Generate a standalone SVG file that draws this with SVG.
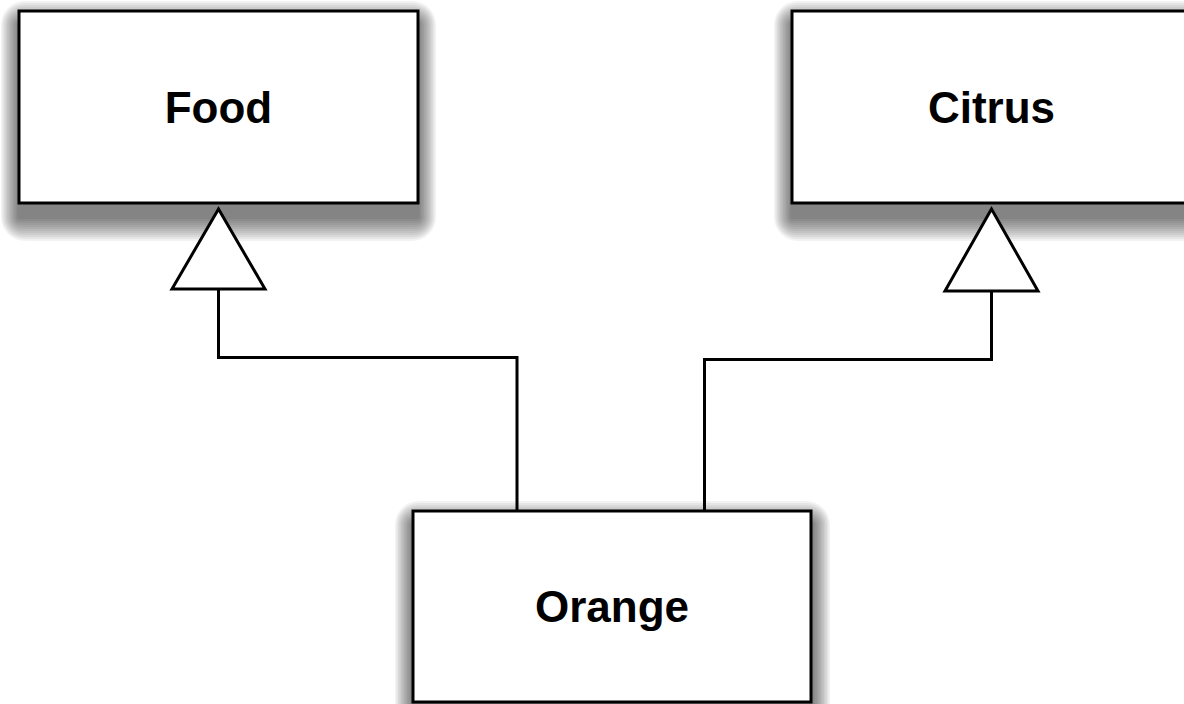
<svg xmlns="http://www.w3.org/2000/svg" width="1184" height="704" viewBox="0 0 1184 704">
<style>
.box{fill:#fff;stroke:#000;stroke-width:3}
.sh rect{fill:#000;fill-opacity:0.05}
.lbl{font-family:"Liberation Sans",Arial,sans-serif;font-weight:bold;font-size:44px;text-anchor:middle;fill:#000}
.conn{fill:none;stroke:#000;stroke-width:3}
.tri{fill:#fff;stroke:#000;stroke-width:3;stroke-linejoin:miter}
</style>
<defs>
<g id="shadowA" class="sh">
<rect x="-1.5" y="-2" width="402" height="196" rx="2"/>
<rect x="-3" y="-4" width="405" height="200" rx="4"/>
<rect x="-4.5" y="-6" width="408" height="204" rx="6"/>
<rect x="-6" y="-8" width="411" height="208" rx="8"/>
<rect x="-7.5" y="-10" width="414" height="212" rx="10"/>
<rect x="-9" y="-12" width="417" height="216" rx="12"/>
<rect x="-10.5" y="-14" width="420" height="220" rx="14"/>
<rect x="-12" y="-16" width="423" height="224" rx="16"/>
<rect x="-13.5" y="-18" width="426" height="228" rx="18"/>
<rect x="-15" y="-20" width="429" height="232" rx="20"/>
<rect x="-16.5" y="-22" width="432" height="236" rx="22"/>
<rect x="-18" y="-24" width="435" height="240" rx="24"/>
</g>
</defs>
<rect width="1184" height="704" fill="#fff"/>
<g id="food">
<use href="#shadowA" x="19" y="25"/>
<rect class="box" x="19" y="11" width="399" height="192"/>
<text class="lbl" x="218.5" y="123">Food</text>
</g>
<g id="citrus">
<use href="#shadowA" x="792" y="25"/>
<rect class="box" x="792" y="11" width="399" height="192"/>
<text class="lbl" x="991.5" y="123">Citrus</text>
</g>
<g id="orange">
<use href="#shadowA" x="413" y="525"/>
<rect class="box" x="413" y="511" width="398" height="191"/>
<text class="lbl" x="612" y="622">Orange</text>
</g>
<g id="connectors">
<path class="conn" d="M517,511 V357.5 H218.5 V289"/>
<polygon class="tri" points="218.5,209 172,289 265,289"/>
<path class="conn" d="M704.5,511 V359.5 H991.5 V291"/>
<polygon class="tri" points="991.5,209 945,291 1038,291"/>
</g>
</svg>
